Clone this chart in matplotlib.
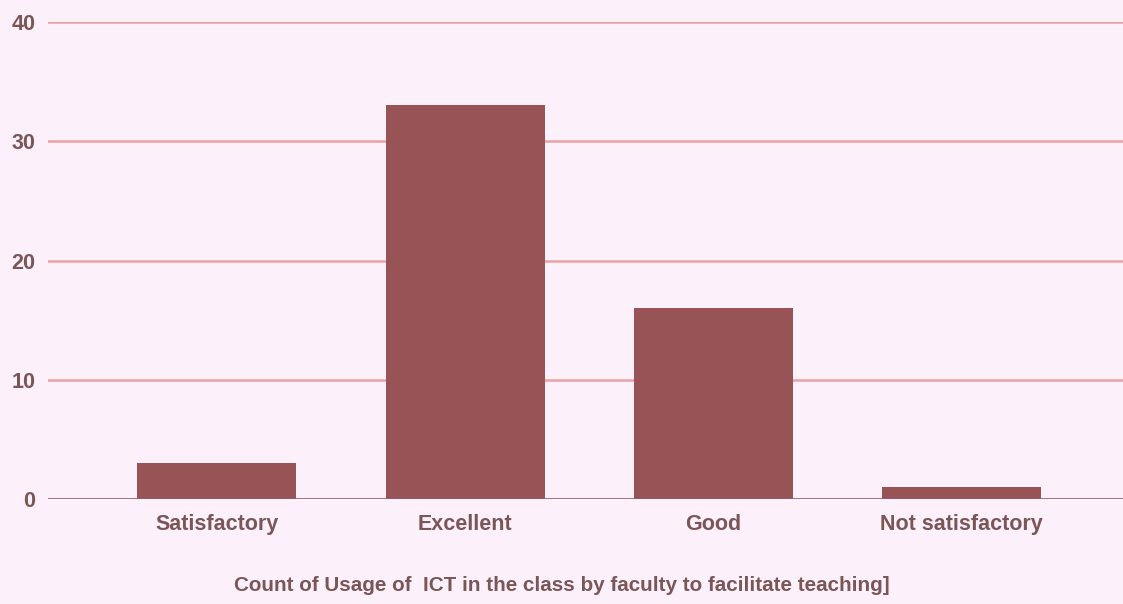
import matplotlib.pyplot as plt

categories = ["Satisfactory", "Excellent", "Good", "Not satisfactory"]
counts = [3, 33, 16, 1]
y_ticks = [0, 10, 20, 30, 40]
x_title = "Count of Usage of  ICT in the class by faculty to facilitate teaching]"

bg = "#fcf0fb"
bar_color = "#975356"
text_color = "#7a5656"
grid_color = "#e8a2a4"

plt.rcParams["font.family"] = ["Liberation Sans", "DejaVu Sans"]

fig = plt.figure(figsize=(11.23, 6.04), dpi=100, facecolor=bg)
ax = fig.add_axes([0.0427, 0.1738, 0.9573, 0.7898], facecolor=bg)

x = range(len(categories))
ax.bar(x, counts, width=0.64, color=bar_color, zorder=3)

ax.set_xlim(-0.68, 3.65)
ax.set_ylim(0, 40)
ax.set_yticks(y_ticks)
ax.set_xticks(list(x))
ax.set_xticklabels(categories)
ax.grid(axis="y", color=grid_color, linewidth=1.8, zorder=0)
ax.axhline(0, color="#8a6070", linewidth=1.8, zorder=4)

for s in ax.spines.values():
    s.set_visible(False)
ax.tick_params(length=0, colors=text_color, labelsize=15.5)
ax.tick_params(axis="y", pad=9)
ax.tick_params(axis="x", pad=11)
for lab in ax.get_xticklabels() + ax.get_yticklabels():
    lab.set_fontweight("bold")

# title sits centred on the whole figure, not the axes
fig.text(0.5, 0.03, x_title, color=text_color, fontsize=14.9,
         fontweight="bold", ha="center", va="center")

fig.savefig("out.png", dpi=100, facecolor=bg)
